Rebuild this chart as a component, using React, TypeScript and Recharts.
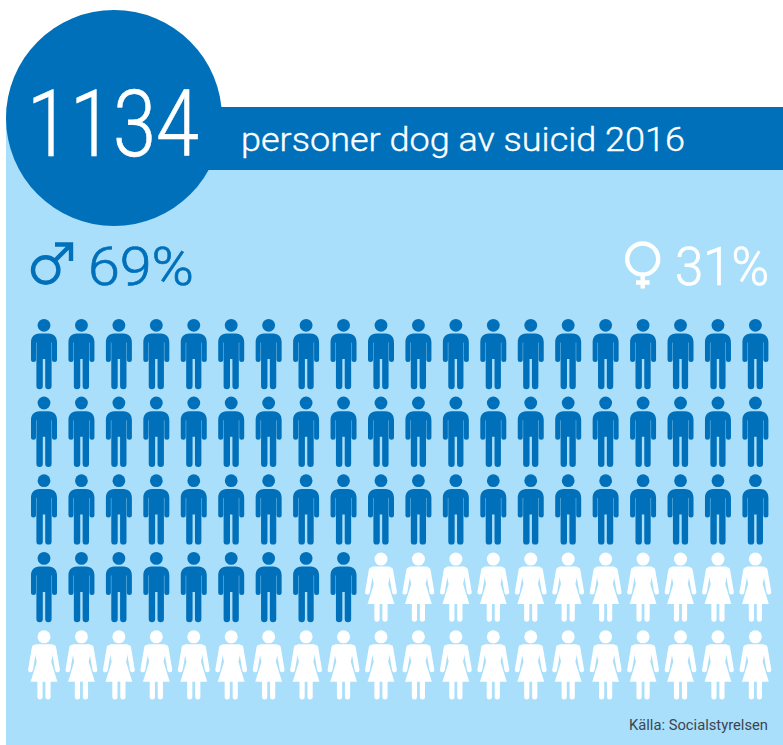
import React from "react";
import { ScatterChart, Scatter, XAxis, YAxis } from "recharts";

// Pictogram: one hundred figures, one per percent of the deaths.
const totalDeaths = "1134";
const headline = "personer dog av suicid 2016";
const source = "Källa: Socialstyrelsen";
const malePercent = 69;
const femalePercent = 31;
const figuresPerRow = 20;
const rowCount = 5;

const DARK = "#0070BA";
const LIGHT = "#A9DFFB";
const WHITE = "#FFFFFF";
const FONT = "Roboto, 'Open Sans', sans-serif";

type Cell = { column: number; row: number };

// Figures fill the grid row by row; men come first, then women.
const cells: Cell[] = Array.from({ length: malePercent + femalePercent }, (_, i) => ({
  column: (i % figuresPerRow) + 1,
  row: Math.floor(i / figuresPerRow) + 1,
}));
const men = cells.slice(0, malePercent);
const women = cells.slice(malePercent);

const columnTicks = Array.from({ length: figuresPerRow }, (_, i) => i + 1);
const rowTicks = Array.from({ length: rowCount }, (_, i) => i + 1);

function Man({ cx, cy }: { cx?: number; cy?: number }) {
  return (
    <g transform={`translate(${cx} ${cy})`} fill={DARK}>
      <circle cx={0} cy={-28.7} r={6.4} />
      <path d="M-4.5-20.5H4.5C10-20.5 13-17 13-11.5V5.5A2.5 2.5 0 0 1 8 5.5V-11.5H7.6V32A3.2 3.2 0 0 1 1.2 32V5H-1.2V32A3.2 3.2 0 0 1-7.6 32V-11.5H-8V5.5A2.5 2.5 0 0 1-13 5.5V-11.5C-13-17-10-20.5-4.5-20.5Z" />
    </g>
  );
}

function Woman({ cx, cy }: { cx?: number; cy?: number }) {
  return (
    <g transform={`translate(${cx} ${cy})`} fill={WHITE}>
      <circle cx={0} cy={-28} r={6.5} />
      <path d="M-8-20.5H8C9-20.5 10.5-19 10.5-18L7.2-3 13.4 17H-13.4L-7.2-3-10.5-18C-10.5-19-9-20.5-8-20.5Z" />
      <path d="M-9.7-17.3L-13.5 5M9.7-17.3L13.5 5" stroke={WHITE} strokeWidth={4.8} strokeLinecap="round" fill="none" />
      <path d="M-4 16V32M4 16V32" stroke={WHITE} strokeWidth={5.2} strokeLinecap="round" fill="none" />
    </g>
  );
}

export default function App() {
  return (
    <div style={{ position: "absolute", left: 0, top: 0, width: 783, height: 745, background: WHITE }}>
      <ScatterChart
        width={783}
        height={745}
        margin={{ top: 354, right: 27.6, bottom: 80.2, left: 44 }}
      >
        <rect x={6} y={107} width={777} height={638} fill={LIGHT} />
        <rect x={114} y={107} width={669} height={63} fill={DARK} />
        <circle cx={114} cy={118} r={108} fill={DARK} />
        <text x={27} y={156} fontFamily={FONT} fontWeight={300} fontSize={92} fill={WHITE} stroke={WHITE} strokeWidth={0.6} textLength={172} lengthAdjust="spacingAndGlyphs">
          {totalDeaths}
        </text>
        <text x={241} y={151} fontFamily={FONT} fontWeight={300} fontSize={34} fill={WHITE} stroke={WHITE} strokeWidth={0.4} textLength={444} lengthAdjust="spacingAndGlyphs">
          {headline}
        </text>

        <g fill="none" stroke={DARK} strokeWidth={4.4}>
          <circle cx={45.7} cy={270} r={12.7} />
          <path d="M54.5 261L71 244.5M55 244.5H71V261" />
        </g>
        <text x={88} y={284.5} fontFamily={FONT} fontWeight={300} fontSize={53} fill={DARK} stroke={DARK} strokeWidth={0.7} textLength={106} lengthAdjust="spacingAndGlyphs">
          {`${malePercent}%`}
        </text>

        <g fill="none" stroke={WHITE} strokeWidth={4.4}>
          <circle cx={642.7} cy={259} r={15.5} />
          <path d="M642.7 274.5V288.5M636 282.5H649.5" />
        </g>
        <text x={675} y={284.5} fontFamily={FONT} fontWeight={300} fontSize={53} fill={WHITE} stroke={WHITE} strokeWidth={0.7} textLength={94} lengthAdjust="spacingAndGlyphs">
          {`${femalePercent}%`}
        </text>

        <text x={629} y={730} fontFamily={FONT} fontSize={14.5} fill="#3A4650" textLength={139} lengthAdjust="spacingAndGlyphs">
          {source}
        </text>

        <XAxis type="number" dataKey="column" domain={[1, figuresPerRow]} ticks={columnTicks} hide />
        <YAxis type="number" dataKey="row" domain={[1, rowCount]} ticks={rowTicks} reversed hide />
        <Scatter data={men} shape={Man as never} isAnimationActive={false} />
        <Scatter data={women} shape={Woman as never} isAnimationActive={false} />
      </ScatterChart>
    </div>
  );
}
